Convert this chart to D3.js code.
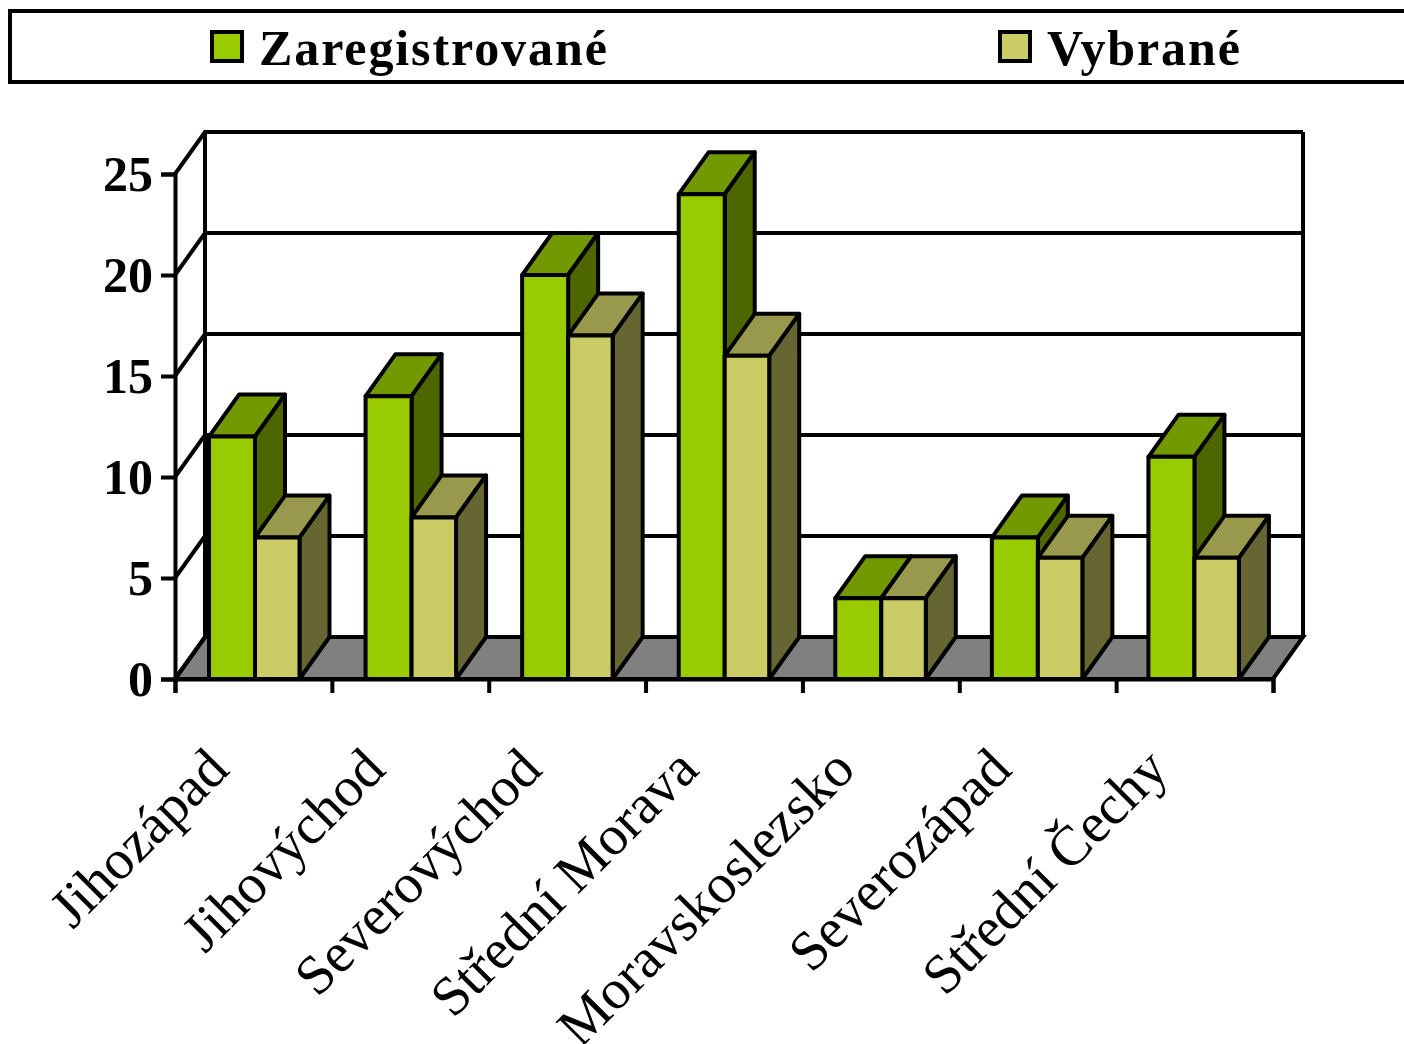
<!DOCTYPE html>
<html>
<head>
<meta charset="utf-8">
<script src="https://cdn.jsdelivr.net/npm/d3@7"></script>
<style>
  html, body { margin: 0; padding: 0; background: #fff; }
  svg { display: block; font-family: "Liberation Serif", serif; }
</style>
</head>
<body>
<div id="chart"></div>
<script>
const categories = ["Jihozápad", "Jihovýchod", "Severovýchod", "Střední Morava", "Moravskoslezsko", "Severozápad", "Střední Čechy"];
const registered = [12, 14, 20, 24, 4, 7, 11];
const selected = [7, 8, 17, 16, 4, 6, 6];
const yTicks = [0, 5, 10, 15, 20, 25];
const seriesNames = ["Zaregistrované", "Vybrané"];

let svgWidth = 1404;
let svgHeight = 1044;

// oblique offset of the 3d box
let depthX = 30;
let depthY = -42;
let lineW = 4;

let svg = d3.select("#chart")
    .append("svg")
    .attr("width", svgWidth)
    .attr("height", svgHeight);

let yScale = d3.scaleLinear().domain([0, 25]).range([679, 174]);
let xScale = d3.scaleBand().domain(categories).range([175, 1271]);
let xTicks = d3.scaleLinear().domain([0, 7]).range([175, 1273]);

let x0 = xTicks.range()[0];
let x1 = xTicks.range()[1];
let y0 = yScale(0);

// floor
svg.append("polygon")
    .attr("points", [[x0, y0], [x0 + depthX, y0 + depthY], [x1 + depthX, y0 + depthY], [x1, y0]].join(" "))
    .attr("fill", "#808080")
    .attr("stroke", "black")
    .attr("stroke-width", lineW);

// walls and gridlines
svg.selectAll(".grid")
    .data(yTicks)
    .enter()
    .append("path")
    .attr("class", "grid")
    .attr("fill", "none")
    .attr("stroke", "black")
    .attr("stroke-width", lineW)
    .attr("d", d => `M${x0},${yScale(d)}L${x0 + depthX},${yScale(d) + depthY}H${x1 + depthX}`);

svg.append("path")
    .attr("fill", "none")
    .attr("stroke", "black")
    .attr("stroke-width", lineW)
    .attr("d", `M${x0 + depthX},${y0 + depthY}V${yScale(25) + depthY}M${x1 + depthX},${y0 + depthY}V${yScale(25) + depthY}`);

// axes
let leftAxis = d3.axisLeft(yScale).tickValues(yTicks).tickSize(14).tickPadding(8);
let bottomAxis = d3.axisBottom(xTicks).ticks(7).tickSize(14).tickFormat("");

let yAxisG = svg.append("g")
    .attr("transform", `translate(${x0}, 0)`)
    .call(leftAxis);

let xAxisG = svg.append("g")
    .attr("transform", `translate(0, ${y0})`)
    .call(bottomAxis);

svg.selectAll(".domain, .tick line")
    .attr("stroke", "black")
    .attr("stroke-width", lineW);

yAxisG.selectAll("text")
    .attr("fill", "black")
    .attr("font-family", "'Liberation Serif', serif")
    .attr("font-size", "50px")
    .attr("font-weight", "bold");

// bars
let greenWidth = 46;
let yellowWidth = 44.5;
let barOffset = 34;

function drawBar(x, w, value, colors) {
    let y = yScale(value);
    let g = svg.append("g")
        .attr("stroke", "black")
        .attr("stroke-width", lineW)
        .attr("stroke-linejoin", "round");

    g.append("polygon")
        .attr("points", [[x, y], [x + depthX, y + depthY], [x + w + depthX, y + depthY], [x + w, y]].join(" "))
        .attr("fill", colors.top);
    g.append("polygon")
        .attr("points", [[x + w, y], [x + w + depthX, y + depthY], [x + w + depthX, y0 + depthY], [x + w, y0]].join(" "))
        .attr("fill", colors.side);
    g.append("rect")
        .attr("x", x)
        .attr("y", y)
        .attr("width", w)
        .attr("height", y0 - y)
        .attr("fill", colors.front);
}

let greens = { front: "#99CC00", top: "#739900", side: "#4D6600" };
let yellows = { front: "#CCCC66", top: "#99994D", side: "#666633" };

categories.forEach(function (c, i) {
    let x = xScale(c) + barOffset;
    drawBar(x, greenWidth, registered[i], greens);
    drawBar(x + greenWidth, yellowWidth, selected[i], yellows);
});

// redraw the baseline over the bars
svg.append("line")
    .attr("x1", x0)
    .attr("x2", x1)
    .attr("y1", y0)
    .attr("y2", y0)
    .attr("stroke", "black")
    .attr("stroke-width", lineW);

// category labels
svg.selectAll(".cat")
    .data(categories)
    .enter()
    .append("text")
    .attr("class", "cat")
    .attr("text-anchor", "end")
    .attr("font-size", "56px")
    .attr("fill", "black")
    .attr("transform", d => `translate(${xScale(d) + 56}, 772) rotate(-45)`)
    .text(d => d);

// legend
svg.append("rect")
    .attr("x", 10)
    .attr("y", 11)
    .attr("width", 1420)
    .attr("height", 71)
    .attr("fill", "white")
    .attr("stroke", "black")
    .attr("stroke-width", lineW);

let legendX = [211, 999];
let legendColors = [greens.front, yellows.front];

seriesNames.forEach(function (name, i) {
    svg.append("rect")
        .attr("x", legendX[i] + 1)
        .attr("y", 32)
        .attr("width", 30)
        .attr("height", 29)
        .attr("fill", legendColors[i])
        .attr("stroke", "black")
        .attr("stroke-width", lineW);

    svg.append("text")
        .attr("x", legendX[i] + 48)
        .attr("y", 65)
        .attr("font-size", "50px")
        .attr("font-weight", "bold")
        .attr("letter-spacing", "1.9px")
        .attr("fill", "black")
        .text(name);
});
</script>
</body>
</html>
